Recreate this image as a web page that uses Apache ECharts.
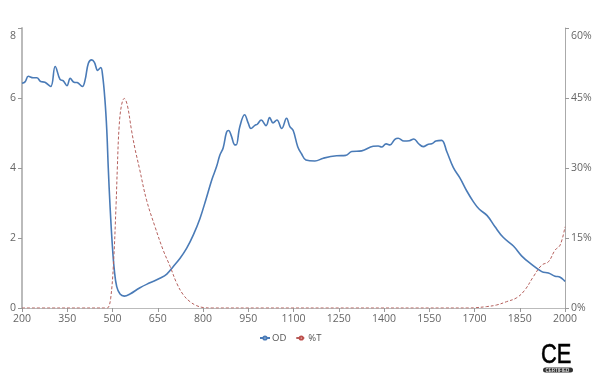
<!DOCTYPE html>
<html>
<head>
<meta charset="utf-8">
<style>
    html, body { margin: 0; padding: 0; background: #fff; }
    #chartDiv { width: 600px; height: 379px; }
</style>
<script src="https://cdn.jsdelivr.net/npm/echarts@6/dist/echarts.min.js"></script>
</head>
<body>
<div id="chartDiv"></div>
<script>
// wavelength / value pairs
const odPoints = [
    [200, 6.42], [210, 6.46], [221, 6.62], [237, 6.58], [249, 6.58], [262, 6.47], [276, 6.45], [295, 6.33],
    [310, 6.9], [326, 6.53], [337, 6.49], [349, 6.35], [360, 6.56], [372, 6.45], [383, 6.44], [400, 6.33],
    [409, 6.51], [420, 6.99], [431, 7.09], [440, 7.02], [451, 6.79], [461, 6.87], [467, 6.66], [475, 5.94],
    [481, 5.09], [486, 4.0], [492, 2.89], [499, 1.85], [506, 1.09], [514, 0.61], [525, 0.4], [539, 0.34],
    [558, 0.4], [591, 0.58], [624, 0.72], [657, 0.85], [680, 0.97], [701, 1.18], [724, 1.42], [746, 1.71],
    [768, 2.09], [790, 2.56], [810, 3.11], [829, 3.66], [845, 4.04], [856, 4.37], [867, 4.58], [878, 5.02],
    [885, 5.07], [893, 4.94], [906, 4.66], [910, 4.66], [922, 5.18], [938, 5.52], [950, 5.28], [959, 5.13],
    [972, 5.22], [980, 5.25], [993, 5.37], [1009, 5.21], [1021, 5.44], [1032, 5.29], [1045, 5.37], [1061, 5.13],
    [1077, 5.42], [1088, 5.18], [1099, 5.07], [1114, 4.61], [1127, 4.4], [1141, 4.23], [1171, 4.2], [1199, 4.28],
    [1243, 4.35], [1273, 4.36], [1293, 4.47], [1326, 4.49], [1364, 4.62], [1381, 4.63], [1392, 4.6], [1407, 4.69],
    [1420, 4.66], [1436, 4.82], [1447, 4.85], [1466, 4.77], [1484, 4.78], [1499, 4.83], [1514, 4.7], [1530, 4.61],
    [1547, 4.68], [1558, 4.69], [1572, 4.77], [1591, 4.79], [1608, 4.47], [1630, 4.01], [1652, 3.71], [1674, 3.35],
    [1696, 3.04], [1716, 2.82], [1742, 2.64], [1768, 2.32], [1795, 2.02], [1829, 1.77], [1856, 1.49], [1884, 1.28],
    [1923, 1.04], [1945, 1.0], [1967, 0.91], [1984, 0.88], [2000, 0.76],
];
const tPoints = [
    [200, 0], [300, 0], [400, 0], [480, 0], [486, 0.1], [494, 2.08], [503, 9.2], [512, 22.4],
    [516, 30], [522, 38.9], [530, 43.5], [539, 44.9], [549, 43.5], [563, 38.1], [574, 34.3], [589, 30],
    [613, 23.1], [641, 17.4], [668, 12.4], [691, 8.9], [713, 5.3], [735, 2.8], [757, 1.35], [779, 0.5],
    [801, 0.1], [830, 0], [1000, 0], [1300, 0], [1600, 0], [1680, 0], [1701, 0.05], [1740, 0.3],
    [1773, 0.64], [1806, 1.35], [1840, 2.2], [1867, 3.86], [1895, 6.7], [1923, 9.2], [1945, 9.9], [1967, 12.4],
    [1984, 13.5], [2000, 17.4],
];
const xTicks = [200, 350, 500, 650, 800, 950, 1100, 1250, 1400, 1550, 1700, 1850, 2000];
const seriesNames = ["OD", "%T"];
const labelFont = "'Open Sans', 'Noto Sans', sans-serif";

let chart = echarts.init(document.getElementById("chartDiv"), null, { renderer: "canvas" });

let options = {
    animation: false,
    backgroundColor: "#fff",
    textStyle: { fontFamily: labelFont },
    grid: { left: 22, right: 35, top: 28, bottom: 71 },
    legend: {
        data: seriesNames,
        left: 254,
        top: 328,
        itemWidth: 10,
        itemHeight: 4,
        itemGap: 9,
        textStyle: { color: "#555", fontSize: 9.5, fontFamily: labelFont, padding: [0, 0, 0, -3] },
    },
    xAxis: {
        type: "value",
        min: 200,
        max: 2000,
        splitLine: { show: false },
        axisLine: { lineStyle: { color: "#bbb", width: 1 } },
        axisTick: { customValues: xTicks, length: 4, lineStyle: { color: "#999" } },
        axisLabel: {
            customValues: xTicks,
            color: "#666",
            fontSize: 10.5,
            margin: 6,
            formatter: function (value) {
                return String(value);
            },
        },
    },
    yAxis: [
        {
            type: "value",
            min: 0,
            max: 8,
            interval: 2,
            splitLine: { show: false },
            axisLine: { show: true, lineStyle: { color: "#bbb", width: 2 } },
            axisTick: { show: true, length: 4, lineStyle: { color: "#999" } },
            axisLabel: { color: "#666", fontSize: 10.5, margin: 6, lineHeight: 16, verticalAlignMaxLabel: "top" },
        },
        {
            type: "value",
            min: 0,
            max: 60,
            interval: 15,
            position: "right",
            splitLine: { show: false },
            axisLine: { show: true, lineStyle: { color: "#aaa", width: 1 } },
            axisTick: { show: true, length: 4, lineStyle: { color: "#999" } },
            axisLabel: { color: "#666", fontSize: 10.5, margin: 6, lineHeight: 16, formatter: "{value}%", verticalAlignMaxLabel: "top" },
        },
    ],
    series: [
        {
            name: seriesNames[0],
            type: "line",
            data: odPoints,
            smooth: 0.4,
            showSymbol: false,
            symbol: "emptyCircle",
            symbolSize: 4,
            itemStyle: { color: "#4a7bb7" },
            lineStyle: { color: "#4a7bb7", width: 1.6 },
            z: 2,
        },
        {
            name: seriesNames[1],
            type: "line",
            yAxisIndex: 1,
            data: tPoints,
            smooth: 0.4,
            showSymbol: false,
            symbol: "emptyCircle",
            symbolSize: 4,
            itemStyle: { color: "#bd4f4c" },
            lineStyle: { color: "#b5605d", width: 1, type: [3, 2] },
            z: 3,
        },
    ],
    graphic: [
        { type: "text", x: 541, y: 341, scaleX: 0.78, style: { text: "CE", fontSize: 28, fontFamily: "'Liberation Sans'", fill: "#000", stroke: "#000", lineWidth: 0.6 } },
        { type: "rect", x: 543, y: 367.5, shape: { width: 30, height: 5, r: 2.5 }, style: { fill: "#333" } },
        { type: "text", x: 545.5, y: 367.8, style: { text: "CERTIFIED", fontSize: 4.5, fontWeight: "bold", fontFamily: "'Liberation Sans'", fill: "#ddd" } },
    ],
};
chart.setOption(options);
</script>
</body>
</html>
